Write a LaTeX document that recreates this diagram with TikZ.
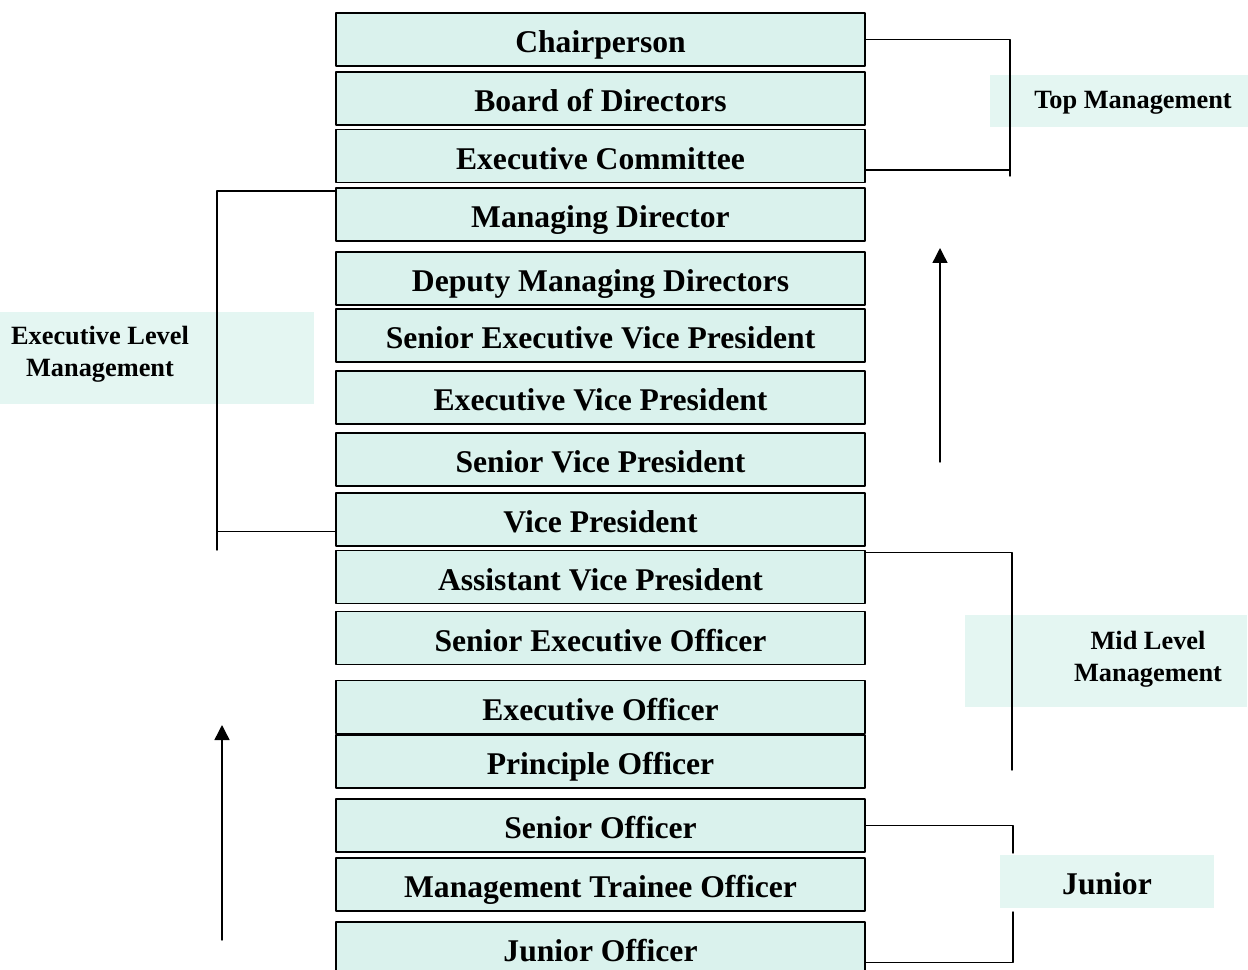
\documentclass[tikz,border=0pt]{standalone}
\usepackage{fontspec}
\setmainfont{Liberation Serif}
\usetikzlibrary{arrows.meta,calc}
\definecolor{rankfill}{RGB}{218,242,237}
\definecolor{tagfill}{RGB}{228,246,242}
\begin{document}
\begin{tikzpicture}[line cap=round,line join=round,x=0.02cm,y=-0.02cm,
		rank/.style={draw=black,line width=1.1pt,fill=rankfill,minimum width=10.58cm,minimum height=1.06cm,inner sep=0pt,text height=14.8pt,text depth=0pt,font=\bfseries\fontsize{18}{21}\selectfont},
		tag/.style={fill=tagfill,inner sep=0pt},
		tagtext/.style={align=center,inner sep=0pt,font=\bfseries\fontsize{15}{18}\selectfont},
		brace/.style={line width=0.8pt},
		up/.style={line width=0.8pt,-{Triangle[length=0.3cm,width=0.3cm]}}]
		\useasboundingbox (0,0) rectangle (1248,970);
		\node[tag,minimum width=5.16cm,minimum height=1.06cm] (toptag) at (1119,101) {};
		\node[tag,minimum width=6.3cm,minimum height=1.86cm] (exectag) at (157,358) {};
		\node[tag,minimum width=5.66cm,minimum height=1.86cm] (midtag) at (1106,661) {};
		\node[tag,minimum width=4.3cm,minimum height=1.06cm] (juntag) at (1107,881) {};
		\node[tagtext] (toptxt) at (1133,103) {Top Management};
		\node[tagtext] (exectxt) at (100,354) {Executive Level\\Management};
		\node[tagtext] (midtxt) at (1148,659) {Mid Level\\Management};
		\node[tagtext,font=\bfseries\fontsize{18}{21}\selectfont] (juntxt) at (1107,884) {Junior};
		\node[rank] (chair) at (600.5,39.5) {Chairperson};
		\node[rank] (board) at (600.5,98.5) {Board of Directors};
		\node[rank] (excom) at (600.5,156) {Executive Committee};
		\node[rank] (md) at (600.5,214.5) {Managing Director};
		\node[rank] (dmd) at (600.5,278.5) {Deputy Managing Directors};
		\node[rank] (sevp) at (600.5,335.5) {Senior Executive Vice President};
		\node[rank] (evp) at (600.5,397.5) {Executive Vice President};
		\node[rank] (svp) at (600.5,459.5) {Senior Vice President};
		\node[rank] (vp) at (600.5,519.5) {Vice President};
		\node[rank] (avp) at (600.5,577) {Assistant Vice President};
		\node[rank] (seo) at (600.5,638) {Senior Executive Officer};
		\node[rank] (eo) at (600.5,707) {Executive Officer};
		\node[rank] (po) at (600.5,761.5) {Principle Officer};
		\node[rank] (so) at (600.5,825.5) {Senior Officer};
		\node[rank] (mto) at (600.5,884.5) {Management Trainee Officer};
		\node[rank] (jo) at (600.5,948.5) {Junior Officer};
		\coordinate (topbot) at (1010,176);
		\coordinate (exbot) at (217,550);
		\coordinate (midbot) at (1012,770);
		\coordinate (juntop) at (1013,853);
		\coordinate (junbot) at (1013,912);
		\draw[brace] (chair.east) -| (topbot);
		\draw[brace] ($(excom.east)+(0,14)$) -- ($(excom.east -| topbot)+(0,14)$);
		\draw[brace] ($(md.north west)+(0,4)$) -| (exbot);
		\draw[brace] ($(vp.west)+(0,12)$) -- ($(vp.west -| exbot)+(0,12)$);
		\draw[brace] ($(avp.north east)+(0,3)$) -| (midbot);
		\draw[brace] (so.east) -| (juntop);
		\draw[brace] ($(jo.east)+(0,14)$) -| (junbot);
		\coordinate (rise1) at (940,462);
		\coordinate (peak1) at (940,248);
		\coordinate (rise2) at (222,940);
		\coordinate (peak2) at (222,725);
		\draw[up] (rise1) -- (peak1);
		\draw[up] (rise2) -- (peak2);
		\end{tikzpicture}
\end{document}
